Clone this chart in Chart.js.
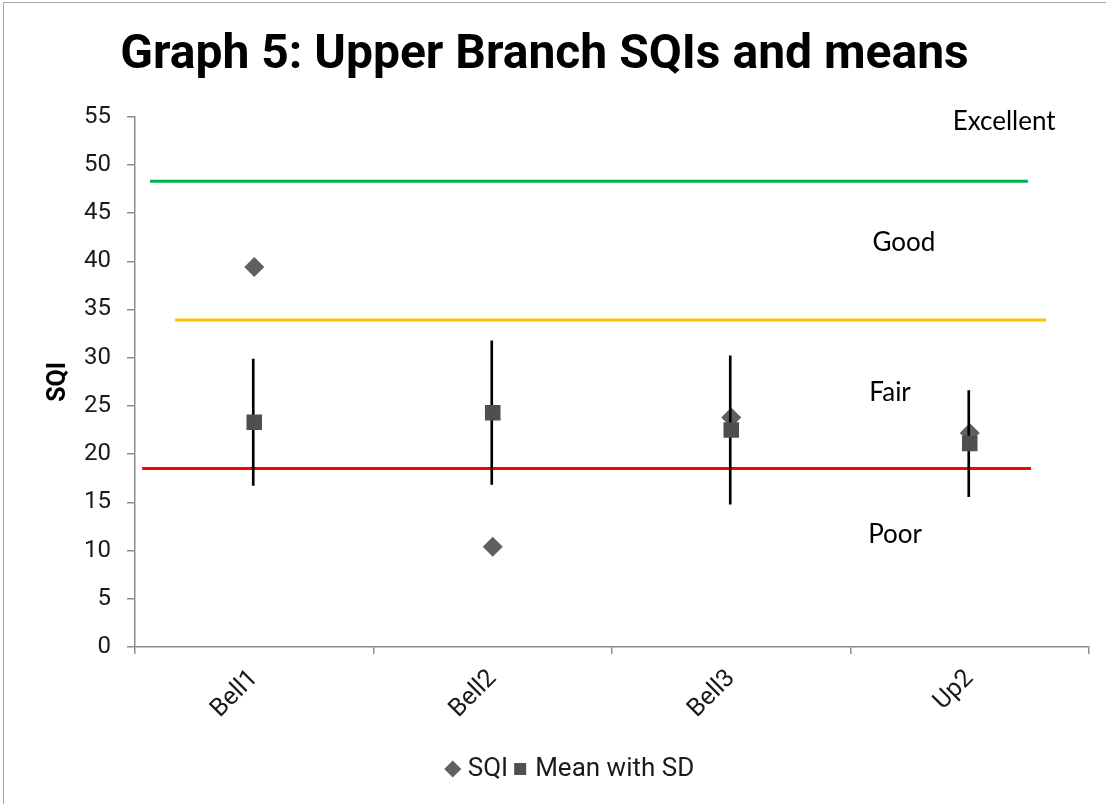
<!DOCTYPE html>
<html><head><meta charset="utf-8">
<script src="https://cdn.jsdelivr.net/npm/chart.js@4"></script>
<style>
html,body{margin:0;padding:0;background:#fff;overflow:hidden;}
#wrap{position:relative;width:1106px;height:804px;}
#frame{position:absolute;left:3px;top:2px;width:1110px;height:810px;border:1px solid #a6a6a6;pointer-events:none;box-sizing:border-box;}
</style></head><body>
<div id="wrap"><canvas id="c" width="1106" height="804"></canvas><div id="frame"></div></div>
<script>
// ---- data ----
const categories = ['Bell1', 'Bell2', 'Bell3', 'Up2'];
const sqiValues  = [39.4, 10.4, 23.8, 22.2];
const meanValues = [23.3, 24.3, 22.5, 21.1];
const sdValues   = [6.55, 7.45, 7.7, 5.5];
const thresholdValues = [48.3, 33.9, 18.5];
const zoneLabels = ['Excellent', 'Good', 'Fair', 'Poor'];
const yMin = 0, yMax = 55, yStep = 5;

// ---- annotation layout (positions on hidden 0..4 x scale / y value units) ----
const thresholdStyle = [
  {color: '#00b050', from: 0.063, to: 3.744},
  {color: '#ffc000', from: 0.168, to: 3.82},
  {color: '#ff0000', from: 0.03,  to: 3.757}
];
const zoneLabelPos = [
  {x: 3.644, y: 54.5},
  {x: 3.224, y: 41.9},
  {x: 3.166, y: 26.4},
  {x: 3.187, y: 11.65}
];

const thresholdDatasets = thresholdValues.map((v, i) => ({
  type: 'line',
  label: 'threshold' + i,
  xAxisID: 'x2',
  data: [{x: thresholdStyle[i].from, y: v}, {x: thresholdStyle[i].to, y: v}],
  borderColor: thresholdStyle[i].color,
  borderWidth: 3,
  pointRadius: 0,
  fill: false,
  order: 10
}));

const zonePlugin = {
  id: 'zoneLabels',
  afterLayout(chart) {
    // Excel legend sits slightly right of centre
    chart.legend.left += 28;
    chart.legend.right += 28;
  },
  afterDatasetsDraw(chart) {
    const ctx = chart.ctx, xs = chart.scales.x2, ys = chart.scales.y;
    ctx.save();
    ctx.font = '26px Lato';
    ctx.fillStyle = '#000';
    ctx.textAlign = 'center';
    ctx.textBaseline = 'middle';
    zoneLabels.forEach((t, i) => {
      ctx.fillText(t, xs.getPixelForValue(zoneLabelPos[i].x), ys.getPixelForValue(zoneLabelPos[i].y));
    });
    ctx.restore();
  }
};

const axisColor = '#8c8c8c';
new Chart(document.getElementById('c'), {
  data: {
    labels: categories,
    datasets: [
      {
        type: 'line', label: 'SQI', data: sqiValues, showLine: false,
        pointStyle: 'rectRot', pointRadius: 10, pointHoverRadius: 10,
        backgroundColor: '#606060', borderColor: '#606060', borderWidth: 0, order: 3
      },
      {
        type: 'bar', label: 'sd', data: meanValues.map((m, i) => [m - sdValues[i], m + sdValues[i]]),
        backgroundColor: '#000', barThickness: 2, order: 2
      },
      {
        type: 'line', label: 'Mean with SD', data: meanValues, showLine: false,
        pointStyle: 'rect', pointRadius: 11, pointHoverRadius: 11,
        backgroundColor: '#4f4f4f', borderColor: '#4f4f4f', borderWidth: 0, order: 1
      },
      ...thresholdDatasets
    ]
  },
  options: {
    responsive: false,
    animation: false,
    layout: {padding: {left: 0, right: 17, top: 0, bottom: 12}},
    plugins: {
      title: {
        display: true, text: 'Graph 5: Upper Branch SQIs and means',
        font: {family: 'Roboto', size: 48, weight: 'bold'}, color: '#000',
        padding: {top: 27, bottom: 32}
      },
      legend: {
        position: 'bottom',
        labels: {
          filter: item => item.text === 'SQI' || item.text === 'Mean with SD',
          sort: (a, b) => a.datasetIndex - b.datasetIndex,
          usePointStyle: true, boxWidth: 4, boxHeight: 12,
          font: {family: 'Roboto', size: 26}, color: '#1a1a1a', padding: 10
        }
      },
      tooltip: {enabled: false}
    },
    scales: {
      x: {
        type: 'category', offset: true,
        grid: {offset: true, drawOnChartArea: false, drawTicks: true, tickLength: 7, color: axisColor, lineWidth: 1.5},
        border: {color: axisColor, width: 1.5},
        ticks: {minRotation: 45, maxRotation: 45, font: {family: 'Roboto', size: 25}, color: '#1a1a1a', padding: 10},
        afterFit: s => { s.height = 99; }
      },
      x2: {type: 'linear', min: 0, max: 4, display: false},
      y: {
        min: yMin, max: yMax,
        ticks: {stepSize: yStep, font: {family: 'Roboto', size: 24}, color: '#1a1a1a', padding: 16},
        grid: {drawOnChartArea: false, drawTicks: true, tickLength: 8, color: axisColor, lineWidth: 1.5},
        border: {color: axisColor, width: 1.5},
        title: {display: true, text: 'SQI', font: {family: 'Roboto', size: 25, weight: 'bold'}, color: '#000', padding: {top: 44, bottom: 0}},
        afterFit: s => { s.width = 135; }
      }
    }
  },
  plugins: [zonePlugin]
});
</script>
</body></html>
